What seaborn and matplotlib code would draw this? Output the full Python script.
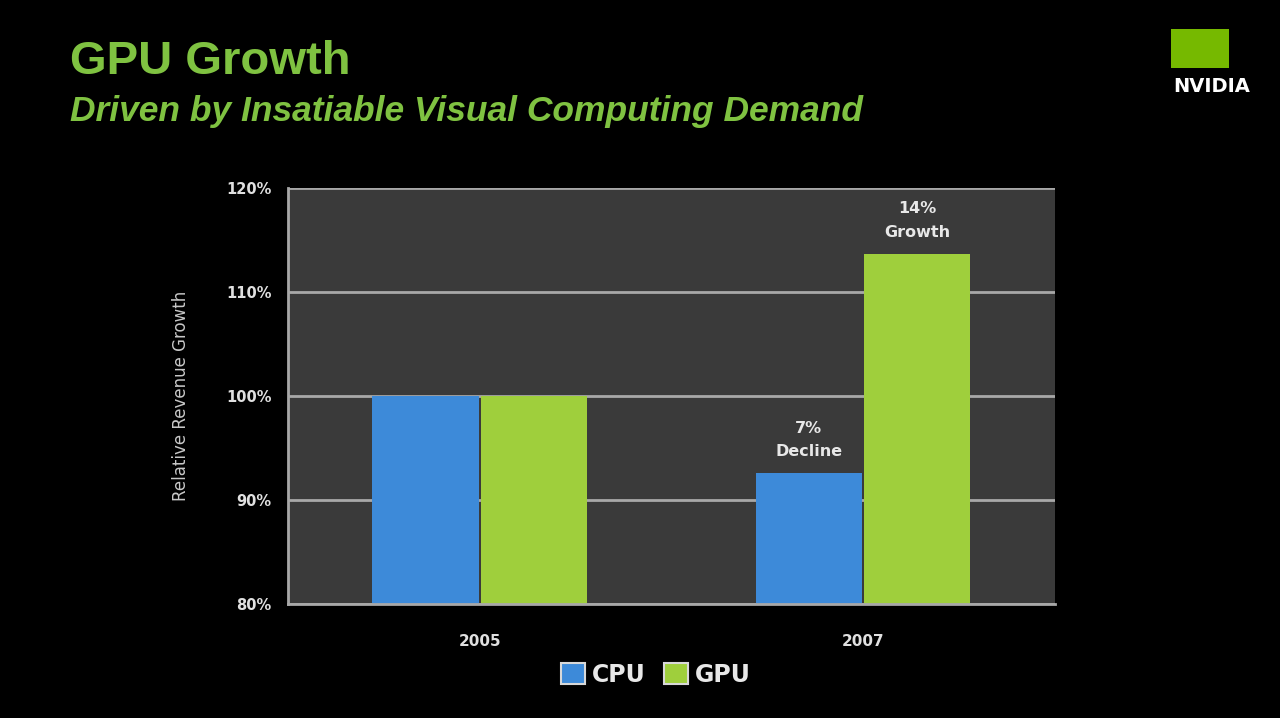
import pandas as pd
import matplotlib.pyplot as plt
import matplotlib.patches as mpatches
import seaborn as sns

# chart values
years = ['2005', '2007']
cpu_growth = [100.0, 92.6]
gpu_growth = [100.0, 113.7]
series = ['CPU', 'GPU']
y_ticks = [80, 90, 100, 110, 120]
notes = {('CPU', '2007'): '7%\nDecline', ('GPU', '2007'): '14%\nGrowth'}

df = pd.DataFrame({
    'Year': years * 2,
    'Growth': cpu_growth + gpu_growth,
    'Chip': ['CPU'] * len(years) + ['GPU'] * len(years),
})

sns.set_theme(style='dark')
plt.rcParams['font.family'] = ['DejaVu Sans']

fig = plt.figure(figsize=(12.8, 7.18), dpi=100, facecolor='black')
ax = fig.add_axes([0.225, 0.159, 0.599, 0.579])
ax.set_facecolor('#3a3a3a')

colors = {'CPU': '#3d8ad9', 'GPU': '#9fcf3c'}
sns.barplot(data=df, x='Year', y='Growth', hue='Chip', palette=colors,
            width=0.565, gap=0.02, ax=ax, legend=False, saturation=1,
            edgecolor='none')

ax.set_ylim(80, 120)
ax.set_xlim(-0.5, 1.5)
ax.set_yticks(y_ticks)
ax.set_yticklabels([f'{t}%' for t in y_ticks], color='#e0e0e0',
                   fontsize=10.5, fontweight='bold')
ax.set_xticks([0, 1])
ax.set_xticklabels(years, color='#e0e0e0', fontsize=11, fontweight='bold')
ax.set_xticks([-0.5, 0.5, 1.5], minor=True)
ax.tick_params(axis='x', which='major', length=0, pad=22)
ax.tick_params(axis='x', which='minor', length=5, color='#b0b0b0', width=1.2)
ax.tick_params(axis='y', length=6, color='#b0b0b0', width=1.2, pad=6)
ax.grid(axis='y', color='#a8a8a8', linewidth=2)
ax.set_axisbelow(True)
for side in ['top', 'right']:
    ax.spines[side].set_visible(False)
for side in ['left', 'bottom']:
    ax.spines[side].set_color('#a8a8a8')
    ax.spines[side].set_linewidth(2)

ax.set_xlabel('')
ax.set_ylabel('Relative Revenue Growth', color='#c8c8c8', fontsize=12, labelpad=26)

# labels above the 2007 bars
for bar_group, chip in zip(ax.containers, series):
    for rect, yr in zip(bar_group, years):
        txt = notes.get((chip, yr))
        if txt:
            ax.annotate(txt, (rect.get_x() + rect.get_width() / 2, rect.get_height()),
                        xytext=(0, 10), textcoords='offset points', ha='center',
                        va='bottom', color='#e8e8e8', fontsize=11.5,
                        fontweight='bold', linespacing=1.7)

handles = [mpatches.Patch(facecolor=colors[s], edgecolor='#d8d8d8', linewidth=1.5,
                          label=s) for s in series]
fig.legend(handles=handles, loc='center', bbox_to_anchor=(0.5125, 0.06), ncol=2,
           frameon=False, handlelength=1.0, handleheight=1.0,
           handletextpad=0.3, columnspacing=0.8, labelcolor='#e8e8e8',
           prop={'size': 17, 'weight': 'bold'})

fig.text(0.055, 0.913, 'GPU Growth', color='#7fc241', fontsize=34,
         fontweight='bold', va='center', ha='left', family='Liberation Sans')
fig.text(0.055, 0.845, 'Driven by Insatiable Visual Computing Demand',
         color='#7fc241', fontsize=25.5, fontweight='bold', style='italic',
         va='center', ha='left', family='Liberation Sans')

# NVIDIA mark
fig.patches.append(mpatches.Rectangle((0.915, 0.905), 0.045, 0.055,
                                      transform=fig.transFigure,
                                      facecolor='#76b900', edgecolor='none'))
fig.text(0.947, 0.88, 'NVIDIA', color='white', fontsize=14, fontweight='bold',
         ha='center', va='center')

fig.savefig('out.png', dpi=100, facecolor='black')
